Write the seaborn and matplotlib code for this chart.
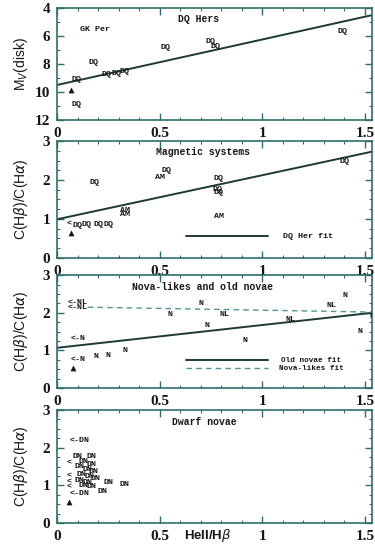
import matplotlib
matplotlib.use("Agg")
import matplotlib.pyplot as plt
import seaborn as sns
import pandas as pd
from matplotlib.ticker import MultipleLocator

# ---------------- data ----------------
x_ticks = [0, 0.5, 1, 1.5]
x_tick_labels = ["0", "0.5", "1", "1.5"]

# Panel 1: DQ Hers  (M_V(disk) vs HeII/Hbeta)
p1_labels = ["GK Per", "DQ", "DQ", "DQ", "DQ", "DQ", "DQ", "DQ", "DQ", "DQ", "DQ"]
p1_x = [0.185, 0.096, 0.093, 0.18, 0.24, 0.29, 0.33, 0.527, 0.746, 0.77, 1.39]
p1_y = [5.5, 9.14, 10.93, 7.88, 8.75, 8.68, 8.55, 6.83, 6.40, 6.76, 5.69]
p1_tri_x = [0.068]
p1_tri_y = [9.86]
p1_fit_x = [0.0, 1.535]
p1_fit_y = [9.5, 4.5]

# Panel 2: Magnetic systems
p2_labels = ["DQ", "AM", "DQ", "DQ", "DQ", "DQ", "AM", "DQ", "AM", "AM",
             "<", "DQ", "DQ", "DQ", "DQ"]
p2_x = [0.185, 0.50, 0.535, 0.787, 0.78, 0.787, 0.787, 1.40, 0.33, 0.33,
        0.06, 0.10, 0.145, 0.20, 0.25]
p2_y = [1.93, 2.06, 2.24, 2.04, 1.76, 1.67, 1.05, 2.47, 1.22, 1.12,
        0.87, 0.84, 0.86, 0.86, 0.85]
p2_tri_x = [0.068]
p2_tri_y = [0.63]
p2_fit_x = [0.0, 1.535]
p2_fit_y = [0.99, 2.73]

# Panel 3: Nova-likes and old novae
p3_labels = ["<-NL", "<-NL", "N", "N", "NL", "N", "N", "NL", "NL", "N", "N", "N",
             "<-N", "<-N", "N", "N", "N"]
p3_x = [0.10, 0.10, 0.55, 0.70, 0.815, 0.73, 0.917, 1.137, 1.34, 1.405, 1.478, 1.535,
        0.104, 0.104, 0.19, 0.25, 0.33]
p3_y = [2.28, 2.14, 1.96, 2.26, 1.96, 1.65, 1.27, 1.81, 2.19, 2.47, 1.50, 1.91,
        1.32, 0.76, 0.83, 0.86, 1.00]
p3_tri_x = [0.077]
p3_tri_y = [0.52]
p3_old_fit_x = [0.0, 1.535]
p3_old_fit_y = [1.07, 2.00]
p3_nl_fit_x = [0.15, 1.535]
p3_nl_fit_y = [2.15, 2.02]

# Panel 4: Dwarf novae
p4_labels = ["<-DN", "DN", "DN", "DN", "DN", "DN", "DN", "DN", "DN", "DN", "DN",
             "DN", "DN", "DN", "DN", "DN", "DN", "<-DN", "DN", "<", "<", "<", "<"]
p4_x = [0.11, 0.10, 0.17, 0.13, 0.17, 0.11, 0.15, 0.18, 0.12, 0.16, 0.19,
        0.11, 0.15, 0.25, 0.13, 0.17, 0.22, 0.11, 0.33, 0.06, 0.06, 0.06, 0.06]
p4_y = [2.20, 1.77, 1.77, 1.63, 1.55, 1.50, 1.42, 1.36, 1.30, 1.24, 1.18,
        1.13, 1.08, 1.08, 1.00, 0.96, 0.85, 0.79, 1.02, 1.60, 1.25, 1.10, 0.95]
p4_tri_x = [0.06]
p4_tri_y = [0.57]

titles = ["DQ Hers", "Magnetic systems", "Nova-likes and old novae", "Dwarf novae"]

# ---------------- style ----------------
sns.set_style("ticks")
plt.rcParams["font.family"] = ["Liberation Serif", "DejaVu Sans"]

SPINE = "#2f6e6c"
INK = "#161616"
LINE = "#1c3a3a"
DASH = "#4f9595"
MARKFONT = dict(family="Liberation Mono", weight="bold")

fig = plt.figure(figsize=(3.75, 5.45), dpi=100)
fig.patch.set_facecolor("white")

left, width = 0.152, 0.840
boxes = [(0.780, 0.985), (0.527, 0.741), (0.288, 0.495), (0.040, 0.248)]
axes = [fig.add_axes([left, b, width, t - b]) for b, t in boxes]


def style_axis(ax, ylim, ymajor, yminor):
    ax.set_xlim(0, 1.535)
    ax.set_ylim(*ylim)
    ax.set_xticks(x_ticks)
    ax.set_xticklabels(x_tick_labels)
    ax.xaxis.set_minor_locator(MultipleLocator(0.1))
    ax.yaxis.set_major_locator(MultipleLocator(ymajor))
    ax.yaxis.set_minor_locator(MultipleLocator(yminor))
    ax.tick_params(which="both", direction="in", top=True, right=True,
                   color=SPINE, labelcolor=INK)
    ax.tick_params(which="major", length=5, width=1.0, labelsize=11, pad=5)
    ax.tick_params(which="minor", length=2.5, width=0.8)
    for lab in ax.get_xticklabels() + ax.get_yticklabels():
        lab.set_fontweight("bold")
    for s in ax.spines.values():
        s.set_color(SPINE)
        s.set_linewidth(1.2)
    ax.set_xlabel("")
    ax.set_ylabel("")


def put_marks(ax, labels, xs, ys, tx, ty, size=6):
    for lab, x, y in zip(labels, xs, ys):
        ax.text(x, y, lab, ha="center", va="center", fontsize=size,
                color=INK, clip_on=True, **MARKFONT)
    sns.scatterplot(x=tx, y=ty, marker="^", s=14, color=INK,
                    edgecolor=INK, ax=ax, legend=False)


# Panel 1
ax = axes[0]
sns.lineplot(x=p1_fit_x, y=p1_fit_y, ax=ax, color=LINE, lw=1.4)
put_marks(ax, p1_labels, p1_x, p1_y, p1_tri_x, p1_tri_y)
style_axis(ax, (12, 4), 2, 1)
ax.text(0.69, 4.8, titles[0], ha="center", va="center", fontsize=7, color=INK, **MARKFONT)
ax.set_ylabel(r"M$_V$(disk)", fontsize=10, family="Liberation Sans", color=INK)

# Panel 2
ax = axes[1]
sns.lineplot(x=p2_fit_x, y=p2_fit_y, ax=ax, color=LINE, lw=1.4)
put_marks(ax, p2_labels, p2_x, p2_y, p2_tri_x, p2_tri_y)
style_axis(ax, (0, 3), 1, 0.25)
ax.text(0.71, 2.72, titles[1], ha="center", va="center", fontsize=7, color=INK, **MARKFONT)
sns.lineplot(x=[0.63, 1.03], y=[0.55, 0.55], ax=ax, color=LINE, lw=1.4)
ax.text(1.10, 0.55, "DQ Her fit", ha="left", va="center", fontsize=6, color=INK, **MARKFONT)

# Panel 3
ax = axes[2]
sns.lineplot(x=p3_old_fit_x, y=p3_old_fit_y, ax=ax, color=LINE, lw=1.4)
sns.lineplot(x=p3_nl_fit_x, y=p3_nl_fit_y, ax=ax, color=DASH, lw=1.0, linestyle=(0, (4, 3)))
put_marks(ax, p3_labels, p3_x, p3_y, p3_tri_x, p3_tri_y)
style_axis(ax, (0, 3), 1, 0.25)
ax.text(0.71, 2.69, titles[2], ha="center", va="center", fontsize=7, color=INK, **MARKFONT)
sns.lineplot(x=[0.63, 1.03], y=[0.74, 0.74], ax=ax, color=LINE, lw=1.4)
sns.lineplot(x=[0.63, 1.03], y=[0.52, 0.52], ax=ax, color=DASH, lw=1.0, linestyle=(0, (4, 3)))
ax.text(1.09, 0.74, "Old novae fit", ha="left", va="center", fontsize=5.5, color=INK, **MARKFONT)
ax.text(1.08, 0.52, "Nova-likes fit", ha="left", va="center", fontsize=5.5, color=INK, **MARKFONT)

# Panel 4
ax = axes[3]
put_marks(ax, p4_labels, p4_x, p4_y, p4_tri_x, p4_tri_y)
style_axis(ax, (0, 3), 1, 0.25)
ax.text(0.72, 2.69, titles[3], ha="center", va="center", fontsize=7, color=INK, **MARKFONT)
ax.set_xlabel(r"HeII/H$\beta$", fontsize=9.5, family="Liberation Sans",
              weight="bold", color=INK)
ax.xaxis.label.set_va("center")
ax.xaxis.set_label_coords(0.48, -0.105)

for ax in axes[1:]:
    ax.set_ylabel(r"C(H$\beta$)/C(H$\alpha$)", fontsize=10, family="Liberation Sans",
                  color=INK)

for ax in axes:
    ax.yaxis.set_label_coords(-0.085, 0.5)

fig.savefig("out.png", dpi=100, facecolor="white")
